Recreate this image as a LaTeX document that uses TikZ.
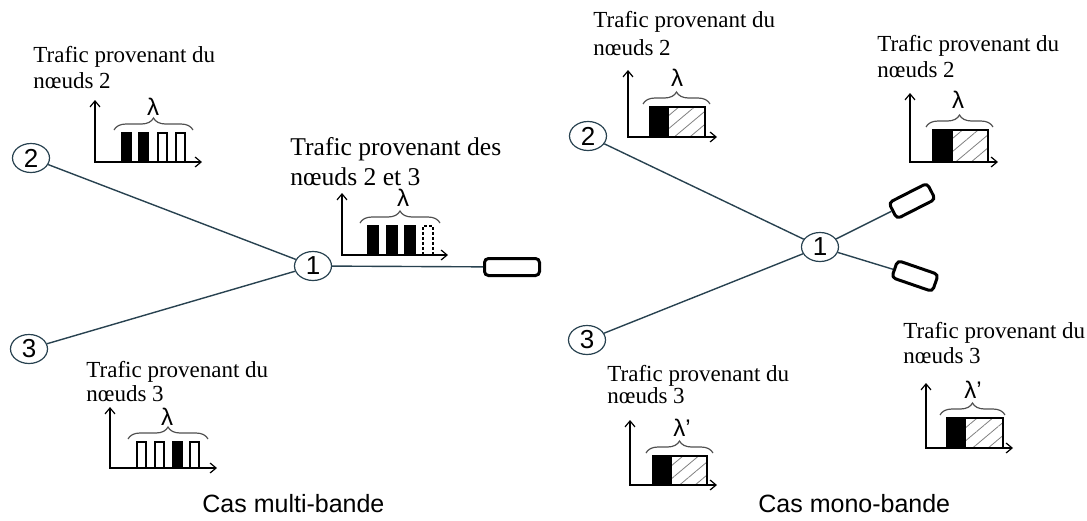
\documentclass[tikz,border=0pt]{standalone}
\usepackage{fontspec}
\setmainfont{Liberation Serif}
\setsansfont{Liberation Sans}
\usetikzlibrary{arrows.meta,shapes.geometric,decorations.pathreplacing,patterns.meta}
\definecolor{slate}{RGB}{40,66,80}
\definecolor{bracegray}{RGB}{80,80,80}
\begin{document}
\begin{tikzpicture}[x=0.5pt, y=-0.5pt, >={Straight Barb[length=3pt,width=5pt]},
 nd/.style={draw=slate, line width=.6pt, ellipse, minimum width=18.5pt, minimum height=14.5pt, inner sep=0pt, font=\sffamily\fontsize{13}{13}\selectfont},
 link/.style={draw=slate, line width=.7pt},
 sink/.style={draw, line width=1.5pt, rounded corners=2pt, inner sep=0pt},
 lbl/.style={anchor=base west, align=left, inner sep=0pt, font=\fontsize{11.5}{13}\selectfont},
 axis/.style={<->, line width=.6pt},
 bar/.style={draw, line width=.6pt},
 hatch/.style={draw, line width=.6pt, pattern={Lines[angle=40,distance=5pt,line width=.4pt]}, pattern color=gray},
 brc/.style={draw=bracegray, line width=.6pt, decorate, decoration={brace, amplitude=6pt}},
 wl/.style={inner sep=0pt, font=\sffamily\fontsize{12}{12}\selectfont},
 titre/.style={anchor=base west, inner sep=0pt, font=\sffamily\fontsize{12.5}{13}\selectfont}]
\useasboundingbox (0,0) rectangle (1087,520);

% multi-bande
\node[nd] (m2) at (31,158) {2};
\node[nd] (m3) at (29,349) {3};
\node[nd] (m1) at (313,266) {1};
\node[sink, minimum width=27.5pt, minimum height=8.5pt] (mout) at (512,267) {};
\draw[link] (m2) -- (m1);
\draw[link] (m3) -- (m1);
\draw[link] (m1) -- (mout);

% labels are placed by the baseline of their last line
\node[lbl] (ta) at (33,88) {Trafic provenant du\\nœuds 2};
\begin{scope}[shift={(95,162)}]
\draw[axis] (0,-62) -- (0,0) -- (107,0);
\foreach \x/\f in {27/black,44/black,63/white,81/white}
  \draw[bar, fill=\f] (\x,0) rectangle ++(9,-29);
\draw[brc] (19,-32) -- (98,-32);
\node[wl] (la) at (58,-55) {λ};
\end{scope}

\node[lbl, font=\fontsize{12.8}{15}\selectfont] (tb) at (290,185) {Trafic provenant des\\nœuds 2 et 3};
\begin{scope}[shift={(342,255)}]
\draw[axis] (0,-62) -- (0,0) -- (106,0);
\foreach \x in {26,45,63}
  \draw[bar, fill=black] (\x,0) rectangle ++(10,-29);
\draw[bar, dash pattern=on 1.5pt off 1pt] (81,0) rectangle ++(10,-29);
\draw[brc] (18,-32) -- (98,-32);
\node[wl] (lb) at (61,-57) {λ};
\end{scope}

\node[lbl, font=\fontsize{11.5}{12}\selectfont] (tc) at (86,401) {Trafic provenant du\\nœuds 3};
\begin{scope}[shift={(110,468)}]
\draw[axis] (0,-61) -- (0,0) -- (107,0);
\foreach \x/\f in {27/white,45/white,63/black,80/white}
  \draw[bar, fill=\f] (\x,0) rectangle ++(9,-26);
\draw[brc] (18,-29) -- (98,-29);
\node[wl] (lc) at (57,-51) {λ};
\end{scope}

\node[titre] (capm) at (202,512) {Cas multi-bande};

% mono-bande
\node[nd] (s2) at (588,136) {2};
\node[nd] (s3) at (587,340) {3};
\node[nd] (s1) at (820,247) {1};
\node[sink, minimum width=21.5pt, minimum height=9pt, rotate=27] (sup) at (912,201) {};
\node[sink, minimum width=21.5pt, minimum height=9pt, rotate=-19] (sdn) at (915,276) {};
\draw[link] (s2) -- (s1);
\draw[link] (s3) -- (s1);
\draw[link] (s1) -- (sup);
\draw[link] (s1) -- (sdn);

\node[lbl, font=\fontsize{11.5}{14}\selectfont] (td) at (593,55) {Trafic provenant du\\nœuds 2};
\begin{scope}[shift={(628,137)}]
\draw[axis] (0,-67) -- (0,0) -- (89,0);
\draw[bar, fill=black] (22,0) rectangle (40,-30);
\draw[hatch] (40,0) rectangle (77,-30);
\draw[brc] (15,-33) -- (82,-33);
\node[wl] (ld) at (49,-59) {λ};
\end{scope}

\node[lbl] (te) at (877,77) {Trafic provenant du\\nœuds 2};
\begin{scope}[shift={(910,162)}]
\draw[axis] (0,-69) -- (0,0) -- (88,0);
\draw[bar, fill=black] (23,0) rectangle (42,-32);
\draw[hatch] (42,0) rectangle (78,-32);
\draw[brc] (16,-35) -- (83,-35);
\node[wl] (le) at (48,-62) {λ};
\end{scope}

\node[lbl, font=\fontsize{11.5}{11}\selectfont] (tf) at (607,403) {Trafic provenant du\\nœuds 3};
\begin{scope}[shift={(630,485)}]
\draw[axis] (0,-65) -- (0,0) -- (87,0);
\draw[bar, fill=black] (23,0) rectangle (41,-29);
\draw[hatch] (41,0) rectangle (77,-29);
\draw[brc] (16,-32) -- (83,-32);
\node[wl] (lf) at (52,-57) {λ’};
\end{scope}

\node[lbl, font=\fontsize{11.5}{12.5}\selectfont] (tg) at (903,363) {Trafic provenant du\\nœuds 3};
\begin{scope}[shift={(926,448)}]
\draw[axis] (0,-65) -- (0,0) -- (87,0);
\draw[bar, fill=black] (21,0) rectangle (39,-30);
\draw[hatch] (39,0) rectangle (77,-30);
\draw[brc] (14,-33) -- (79,-33);
\node[wl] (lg) at (47,-58) {λ’};
\end{scope}

\node[titre] (caps) at (758,512) {Cas mono-bande};
\end{tikzpicture}
\end{document}
